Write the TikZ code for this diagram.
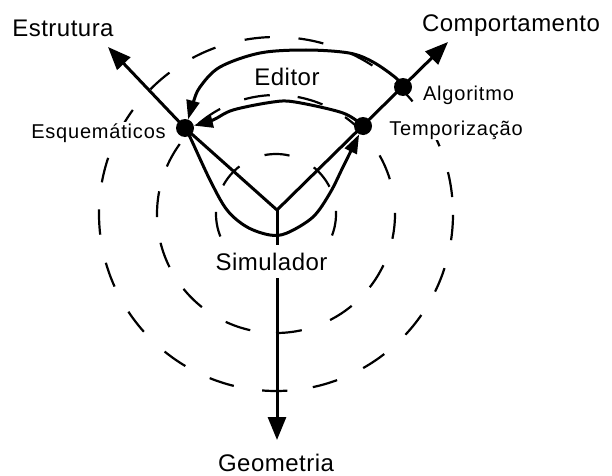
\documentclass[tikz,border=0pt]{standalone}
\usepackage{fontspec}
\setmainfont{Liberation Sans}
\newfontfamily\axisfont[LetterSpace=2]{Liberation Sans}
\newfontfamily\pointfont[LetterSpace=4]{Liberation Sans}
\usetikzlibrary{arrows.meta,calc}

\begin{document}
\begin{tikzpicture}[x=1pt,y=1pt,
axis/.style={line width=3pt,-{Triangle[length=23pt,width=18pt]}},
ring/.style={line width=2.2pt},
flow/.style={line width=3pt,-{Triangle[length=19pt,width=13pt]}},
dot/.style={circle,fill,inner sep=0pt,minimum size=18pt},
axlabel/.style={anchor=base,font=\axisfont\fontsize{24}{28}\selectfont},
ptlabel/.style={anchor=base,fill=white,inner sep=1pt,font=\pointfont\fontsize{20}{24}\selectfont}]
\useasboundingbox (0,0) rectangle (612,475);
\coordinate (o) at (277,265);
\coordinate (c) at (276,261);
\coordinate (estr) at (108,428);
\coordinate (comp) at (448,433);
\coordinate (geom) at (277,35);
% rings, one dash at a time
\foreach \s in {27,77,127.5,178,229,280,339}
  \draw[ring] (c) ++(\s:60) arc[start angle=\s,delta angle=24,radius=60];
\foreach \s in {17,42,67,93,118,144,169,194,219,245,270,297,322,348}
  \draw[ring] (c) ++(\s:119) arc[start angle=\s,delta angle=12.5,radius=119];
\foreach \s in {5.5,22.5,39.5,57,74.5,92,110,127,144,161.5,178.5,196,213.5,231,248,265.5,282,299.5,317,334,351.5}
  \draw[ring] (c) ++(\s:177) arc[start angle=\s,delta angle=8.2,radius=177];
% levels
\node[dot] (esq) at (185,347) {};
\node[dot] (temp) at (363,349) {};
\node[dot] (alg) at (403,388) {};
% axes
\draw[axis] (o) -- (esq.center) -- (estr);
\draw[axis] (o) -- (comp);
\draw[axis] (o) -- (geom);
% tools
\draw[flow] plot[smooth,tension=0.55] coordinates {(alg.center) (396,397) (373,413) (349,422) (306,425) (260,422) (220,408) (200,388) (193,372) (esq.70)};
\draw[flow] plot[smooth,tension=0.55] coordinates {(temp.center) (343,362) (295,373) (273,373) (233,365) (213,355) (esq.15)};
\draw[flow] plot[smooth,tension=0.55] coordinates {(esq.center) (190,338) (210,295) (227,265) (247,248) (270,240) (287,242) (313,258) (330,282) (343,308) (temp.245)};
% labels
\node[axlabel] (estrl) at (63,438) {Estrutura};
\node[axlabel] (compl) at (511,443) {Comportamento};
\node[axlabel] (geoml) at (276,4) {Geometria};
\node[axlabel] (edit) at (287,389) {Editor};
\node[axlabel,fill=white,inner ysep=8pt,inner xsep=2pt] (sim) at (271.5,205) {Simulador};
\node[ptlabel] (esql) at (98.5,337) {Esquemáticos};
\node[ptlabel] (algl) at (468.5,375) {Algoritmo};
\node[ptlabel] (templ) at (456,340) {Temporização};
\end{tikzpicture}
\end{document}
